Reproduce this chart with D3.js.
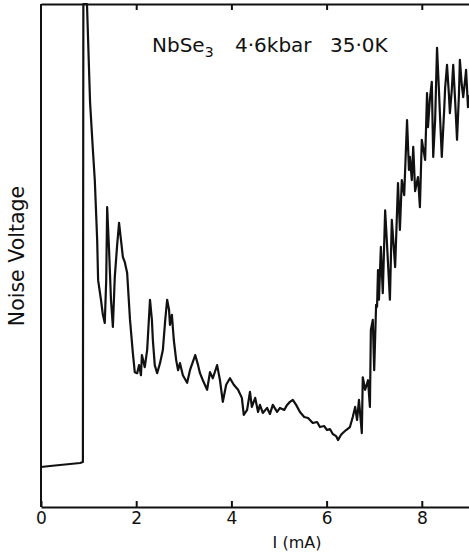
<!DOCTYPE html>
<html>
<head>
<meta charset="utf-8">
<script src="https://cdn.jsdelivr.net/npm/d3@7"></script>
<style>
  body { margin: 0; background: #fff; }
  svg { display: block; }
  text { font-family: "DejaVu Sans", sans-serif; fill: #111; }
</style>
</head>
<body>
<script>
// current in mA, noise voltage in arbitrary units (0..100 = axis height)
const current = [
  0, 0.19, 0.40, 0.61, 0.82, 0.88, 0.89, 0.966,
  1.03, 1.09, 1.13, 1.18, 1.20, 1.26, 1.30, 1.34, 1.37, 1.39, 1.43, 1.47,
  1.51, 1.55, 1.60, 1.64, 1.68, 1.72, 1.76, 1.81, 1.87, 1.93, 1.97, 2.02,
  2.06, 2.10, 2.12, 2.18, 2.23, 2.29, 2.33, 2.35, 2.39, 2.44, 2.50, 2.56,
  2.61, 2.65, 2.69, 2.71, 2.75, 2.79, 2.84, 2.88, 2.92, 2.98, 3.07, 3.13,
  3.24, 3.30, 3.34, 3.40, 3.49, 3.55, 3.61, 3.70, 3.76, 3.82, 3.89, 3.97,
  4.05, 4.14, 4.22, 4.26, 4.33, 4.39, 4.43, 4.50, 4.56, 4.60, 4.66, 4.75,
  4.81, 4.87, 4.96, 5.02, 5.11, 5.17, 5.23, 5.29, 5.36, 5.44, 5.53, 5.61,
  5.71, 5.80, 5.86, 5.95, 6.01, 6.07, 6.13, 6.20, 6.24, 6.30, 6.34, 6.41,
  6.49, 6.55, 6.60, 6.64, 6.68, 6.74, 6.76, 6.81, 6.87, 6.91, 6.93, 6.97,
  7.00, 7.04, 7.06, 7.08, 7.10, 7.14, 7.18, 7.23, 7.27, 7.33, 7.37, 7.44,
  7.50, 7.54, 7.58, 7.63, 7.69, 7.73, 7.75, 7.79, 7.82, 7.86, 7.92, 7.96,
  8.00, 8.07, 8.11, 8.13, 8.17, 8.21, 8.24, 8.28, 8.32, 8.36, 8.38, 8.42,
  8.47, 8.49, 8.53, 8.57, 8.59, 8.63, 8.66, 8.70, 8.74, 8.78, 8.80, 8.84,
  8.87, 8.91, 8.93, 8.97, 8.99
]
const noise = [
  7.95, 8.15, 8.35, 8.55, 8.75, 8.95, 100, 100,
  80.6, 71.0, 65.0, 53.1, 45.1, 41.2, 38.2, 36.6, 45.1, 59.6, 51.1, 41.2,
  35.8, 45.7, 52.1, 56.5, 53.1, 49.7, 48.7, 46.5, 37.2, 30.6, 26.8, 26.6,
  28.2, 26.2, 30.2, 27.8, 31.2, 41.2, 37.2, 33.2, 28.2, 26.6, 28.6, 31.2,
  37.2, 41.2, 39.2, 36.2, 38.2, 33.2, 29.2, 27.2, 28.6, 26.2, 24.7, 27.2,
  30.2, 28.2, 26.6, 25.2, 23.3, 26.8, 25.6, 28.2, 25.2, 20.9, 24.3, 25.6,
  24.3, 23.3, 21.7, 18.3, 19.3, 22.9, 19.9, 21.7, 18.9, 20.3, 18.7, 19.7,
  18.5, 20.3, 18.9, 19.7, 19.3, 20.3, 20.9, 21.3, 20.3, 18.9, 17.9, 17.7,
  16.7, 16.9, 15.9, 16.1, 15.3, 15.5, 14.5, 14.1, 13.3, 14.3, 14.7, 15.3,
  15.9, 17.9, 19.9, 17.3, 21.3, 14.7, 25.8, 23.3, 25.2, 19.9, 35.2, 37.2,
  27.2, 40.2, 39.8, 47.1, 41.2, 51.7, 42.5, 59.0, 52.1, 41.2, 57.1, 47.7,
  64.4, 55.1, 65.0, 62.0, 76.9, 67.0, 69.6, 65.0, 71.6, 62.8, 65.6, 59.6,
  73.0, 69.0, 82.3, 75.5, 81.1, 84.5, 69.6, 76.9, 91.3, 82.9, 78.3, 69.6,
  78.9, 83.3, 87.9, 81.9, 78.3, 82.9, 87.9, 80.9, 73.0, 81.9, 88.9, 83.9,
  81.5, 84.9, 86.9, 79.5, 81.9
]
const xTicks = [0, 2, 4, 6, 8]

const width = 469
const height = 555
const margin = { top: 4, left: 41, bottom: 48, right: 0 }

const svg = d3.select('body').append('svg')
  .attr('width', width)
  .attr('height', height)

const x = d3.scaleLinear().domain([0, 9]).range([margin.left, margin.left + 9 * 47.6])
const y = d3.scaleLinear().domain([0, 100]).range([height - margin.bottom, margin.top])

// bottom axis, ticks pointing inward
const xAxis = d3.axisBottom(x)
  .tickValues(xTicks)
  .tickFormat(d3.format('d'))
  .tickSizeInner(-6)
  .tickSizeOuter(0)
  .tickPadding(5)

const gx = svg.append('g')
  .attr('transform', `translate(0, ${y(0)})`)
  .call(xAxis)
gx.select('.domain').attr('stroke', '#111').attr('stroke-width', 2)
gx.selectAll('.tick line').attr('stroke', '#111').attr('stroke-width', 2)
gx.selectAll('.tick text')
  .style('font-size', '17px')
  .style('font-family', '"DejaVu Sans", sans-serif')
  .attr('fill', '#111')

// top axis, unlabelled
const gTop = svg.append('g')
  .attr('transform', `translate(0, ${y(100)})`)
  .call(d3.axisTop(x).tickValues(xTicks.slice(1)).tickFormat('').tickSizeInner(-6).tickSizeOuter(0))
gTop.select('.domain').attr('stroke', '#111').attr('stroke-width', 2)
gTop.selectAll('.tick line').attr('stroke', '#111').attr('stroke-width', 2)

// left axis, no ticks
svg.append('line')
  .attr('x1', x(0)).attr('x2', x(0))
  .attr('y1', y(0)).attr('y2', y(100))
  .attr('stroke', '#111')
  .attr('stroke-width', 2)

const points = current.map((c, i) => [c, noise[i]])

const line = d3.line()
  .x(d => x(d[0]))
  .y(d => y(d[1]))

svg.append('path')
  .datum(points)
  .attr('d', line)
  .attr('fill', 'none')
  .attr('stroke', '#111')
  .attr('stroke-width', 2.2)
  .attr('stroke-linejoin', 'round')

// title
const title = svg.append('g').style('font-size', '20px')
const t1 = title.append('text').attr('x', 152).attr('y', 52)
t1.append('tspan').text('NbSe')
t1.append('tspan').attr('dy', 5).style('font-size', '14px').text('3')
title.append('text').attr('x', 235).attr('y', 52).text('4·6kbar')
title.append('text').attr('x', 330).attr('y', 52).text('35·0K')

// axis labels
svg.append('text')
  .attr('x', 297)
  .attr('y', 548)
  .attr('text-anchor', 'middle')
  .style('font-size', '16px')
  .text('I (mA)')

svg.append('text')
  .attr('transform', 'translate(24, 256) rotate(-90)')
  .attr('text-anchor', 'middle')
  .style('font-size', '20.5px')
  .text('Noise Voltage')
</script>
</body>
</html>
